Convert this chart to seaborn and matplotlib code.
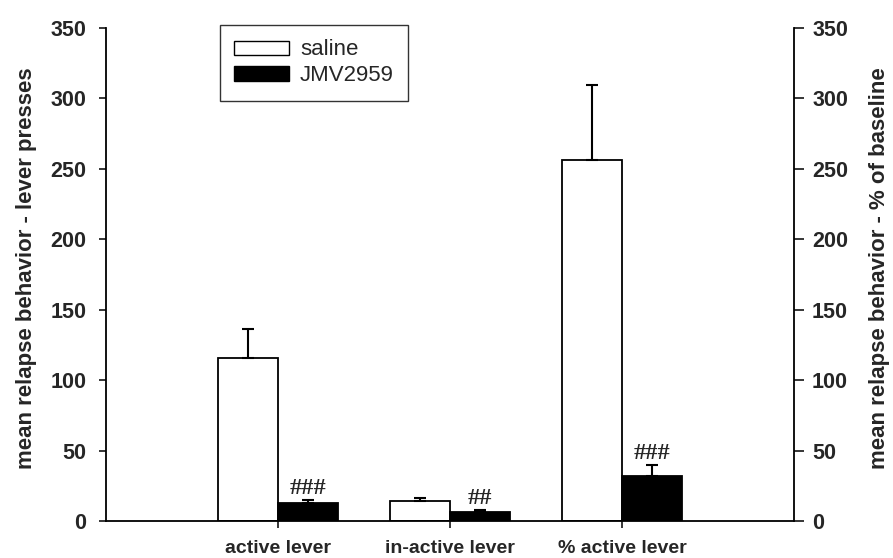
import matplotlib
matplotlib.use("Agg")
import matplotlib.pyplot as plt
from matplotlib.patches import Patch
import seaborn as sns
import pandas as pd

# ---- data ----
categories = ["active lever", "in-active lever", "% active lever"]
groups = ["saline", "JMV2959"]
saline_vals = [115.6, 14.2, 256.5]
saline_err = [20.8, 2.1, 53.2]
jmv_vals = [12.5, 6.4, 32.0]
jmv_err = [2.5, 1.4, 8.0]
jmv_marks = ["###", "##", "###"]
y_ticks = [0, 50, 100, 150, 200, 250, 300, 350]

df = pd.DataFrame({
    "category": categories * 2,
    "group": [groups[0]] * 3 + [groups[1]] * 3,
    "value": saline_vals + jmv_vals,
})
errs = {groups[0]: saline_err, groups[1]: jmv_err}

sns.set_style("ticks")
plt.rcParams["font.family"] = ["Liberation Sans", "DejaVu Sans"]

fig = plt.figure(figsize=(8.93, 5.58), dpi=100)
ax = fig.add_axes([106 / 893, 1 - 521 / 558, 688 / 893, 493 / 558])

sns.barplot(data=df, x="category", y="value", hue="group", order=categories,
            hue_order=groups, palette={"saline": "white", "JMV2959": "black"},
            edgecolor="black", linewidth=1.3, width=0.7, errorbar=None,
            legend=False, ax=ax)

bar_conts = list(ax.containers)
# error bars (upward only) and significance marks
for gi, cont in enumerate(bar_conts):
    g = groups[gi]
    for ci, bar in enumerate(cont):
        xc = bar.get_x() + bar.get_width() / 2
        h = bar.get_height()
        e = errs[g][ci]
        ax.errorbar([xc], [h], yerr=[[0], [e]], fmt="none", ecolor="black",
                    elinewidth=1.5, capsize=4.2, capthick=1.5, zorder=1)
        if g == "JMV2959":
            ax.annotate(jmv_marks[ci], xy=(xc, h + e), xytext=(0, 4),
                        textcoords="offset points", ha="center", va="baseline",
                        fontsize=17.5, fontweight="bold",
                        family=["Liberation Serif", "DejaVu Serif"])

ax.set_xlim(-1, 3)
ax.set_ylim(0, 350)
ax.set_yticks(y_ticks)
ax.set_xlabel("")
ax.set_ylabel("mean relapse behavior - lever presses", fontsize=16,
              fontweight="bold", labelpad=10)
ax.yaxis.label.set_y(0.513)
ax.tick_params(axis="y", direction="out", length=5, width=1.3, pad=9,
               labelsize=15.5)
ax.tick_params(axis="x", direction="out", length=5, width=1.3, pad=9,
               labelsize=14)
for lab in ax.get_xticklabels() + ax.get_yticklabels():
    lab.set_fontweight("bold")
for s in ["left", "bottom"]:
    ax.spines[s].set_linewidth(1.3)
    ax.spines[s].set_color("black")
ax.spines["top"].set_visible(False)
ax.spines["right"].set_visible(False)

ax2 = ax.twinx()
ax2.set_ylim(0, 350)
ax2.set_yticks(y_ticks)
ax2.tick_params(axis="y", direction="out", length=7, width=1.3, pad=6,
                labelsize=15.5)
for lab in ax2.get_yticklabels():
    lab.set_fontweight("bold")
ax2.set_ylabel("mean relapse behavior - % of baseline", fontsize=16,
               fontweight="bold", rotation=90, labelpad=15)
ax2.yaxis.set_label_position("right")
ax2.yaxis.label.set_y(0.513)
for s in ["top", "left", "bottom"]:
    ax2.spines[s].set_visible(False)
ax2.spines["right"].set_linewidth(1.3)
ax2.spines["right"].set_color("black")
ax2.grid(False)

handles = [Patch(facecolor="white", edgecolor="black", linewidth=1.0),
           Patch(facecolor="black", edgecolor="black", linewidth=1.0)]
leg = ax.legend(handles, groups, loc="upper left",
                bbox_to_anchor=((220 - 106) / 688, (521 - 25) / 493),
                borderaxespad=0, frameon=True, fancybox=False, fontsize=16,
                handlelength=2.45, handleheight=0.6, handletextpad=0.5,
                labelspacing=0.22, borderpad=0.65)
leg.get_frame().set_edgecolor("black")
leg.get_frame().set_linewidth(1.0)

fig.savefig("out.png", dpi=100, facecolor="white")
